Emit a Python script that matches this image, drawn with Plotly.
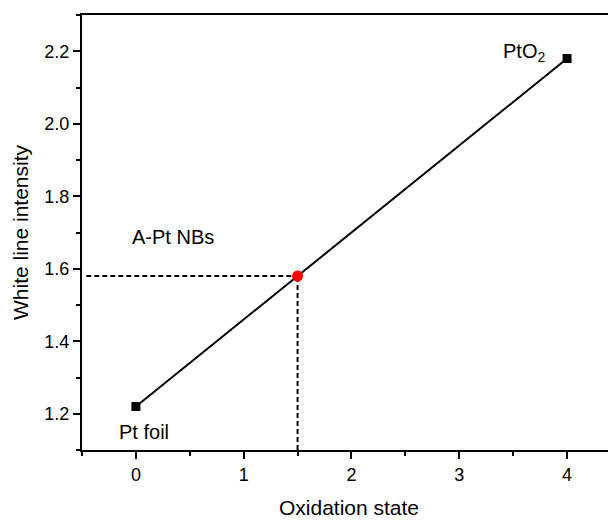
import plotly.graph_objects as go

# reference points
ox_state = [0, 4]
wl_intensity = [1.22, 2.18]
ref_names = ["Pt foil", "PtO<sub>2</sub>"]

sample_x = [1.5]
sample_y = [1.58]
sample_name = "A-Pt NBs"

x_ticks = [0, 1, 2, 3, 4]
y_ticks = [1.2, 1.4, 1.6, 1.8, 2.0, 2.2]

xr = [-0.5, 4.454]
yr = [1.1, 2.3]

fig = go.Figure()

# dashed guide lines to the sample point
fig.add_trace(go.Scatter(x=[-0.46, sample_x[0]], y=[sample_y[0], sample_y[0]], mode="lines",
                         line=dict(color="black", width=2, dash="5px,3px"), hoverinfo="skip"))
fig.add_trace(go.Scatter(x=[sample_x[0], sample_x[0]], y=[yr[0], sample_y[0]], mode="lines",
                         line=dict(color="black", width=2, dash="5px,3px"), hoverinfo="skip"))

fig.add_trace(go.Scatter(x=ox_state, y=wl_intensity, mode="lines+markers",
                         line=dict(color="black", width=2),
                         marker=dict(symbol="square", size=9, color="black")))
fig.add_trace(go.Scatter(x=sample_x, y=sample_y, mode="markers",
                         marker=dict(symbol="circle", size=11, color="#ff0000")))

font = "Liberation Sans, Arial, sans-serif"
ann_font = dict(size=20, color="black", family=font)
fig.add_annotation(x=0.074, y=1.15, text=ref_names[0], showarrow=False,
                   xanchor="center", yanchor="middle", font=ann_font)
fig.add_annotation(x=3.6, y=2.196, text=ref_names[1], showarrow=False,
                   xanchor="center", yanchor="middle", font=ann_font)
fig.add_annotation(x=0.34, y=1.688, text=sample_name, showarrow=False,
                   xanchor="center", yanchor="middle", font=ann_font)

# page body has an 8px margin, so the figure is sized to end at the window edge
fig.update_layout(
    width=608, height=515,
    margin=dict(l=74, r=0, t=7, b=73),
    plot_bgcolor="white", paper_bgcolor="white",
    showlegend=False,
    font=dict(family=font, color="black", size=18),
)
fig.update_xaxes(range=xr, tickvals=x_ticks, showgrid=False, zeroline=False, automargin=False,
                 showline=True, linecolor="black", linewidth=2, mirror=True,
                 ticks="outside", ticklen=7, tickwidth=2, tickcolor="black",
                 minor=dict(dtick=0.5, ticks="outside", ticklen=4, tickwidth=2, tickcolor="black"),
                 tickfont=dict(size=18),
                 title=dict(text="Oxidation state", font=dict(size=21), standoff=17))
fig.update_yaxes(range=yr, tickvals=y_ticks, tickformat=".1f", showgrid=False, zeroline=False,
                 automargin=False,
                 showline=True, linecolor="black", linewidth=2,
                 ticks="outside", ticklen=7, tickwidth=2, tickcolor="black",
                 minor=dict(dtick=0.1, ticks="outside", ticklen=4, tickwidth=2, tickcolor="black"),
                 tickfont=dict(size=18),
                 title=dict(text="White line intensity", font=dict(size=21), standoff=10))

fig.write_html("out.html")
